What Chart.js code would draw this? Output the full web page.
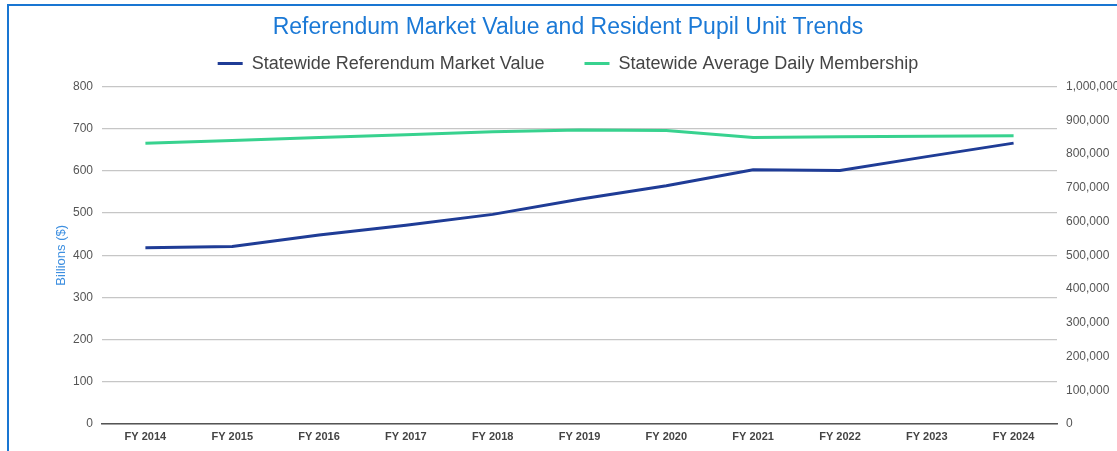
<!DOCTYPE html>
<html>
<head>
<meta charset="utf-8">
<script src="https://cdn.jsdelivr.net/npm/chart.js@4/dist/chart.umd.min.js"></script>
<style>
  html, body { margin: 0; padding: 0; background: #fff; overflow: hidden; }
  .frame {
    position: absolute; left: 7px; top: 4px;
    width: 1120px; height: 447px;
    border-left: 2px solid #1976d2; border-top: 2px solid #1976d2;
  }
  .box { position: relative; width: 1118px; height: 445px; }
</style>
</head>
<body>
<div class="frame"><div class="box"><canvas id="grafico"></canvas></div></div>
<script>
const anos = ["FY 2014", "FY 2015", "FY 2016", "FY 2017", "FY 2018", "FY 2019", "FY 2020", "FY 2021", "FY 2022", "FY 2023", "FY 2024"];
// bilhões de dólares (eixo esquerdo)
const valorMercado = [418, 421, 448, 471, 497, 533, 565, 603, 601, 634, 666];
// membros (eixo direito)
const membrosDiarios = [832000, 840000, 849000, 857000, 866000, 871000, 870000, 849500, 851000, 853000, 854000];

const fonte = "'Liberation Sans', Arial, sans-serif";

const ctx = document.getElementById("grafico").getContext("2d");
const grafico = new Chart(ctx, {
  type: "line",
  data: {
    labels: anos,
    datasets: [
      {
        label: "Statewide Referendum Market Value",
        data: valorMercado,
        borderColor: "#1f3c96",
        backgroundColor: "#1f3c96",
        borderWidth: 3,
        pointRadius: 0,
        tension: 0,
        yAxisID: "y"
      },
      {
        label: "Statewide Average Daily Membership",
        data: membrosDiarios,
        borderColor: "#38d28f",
        backgroundColor: "#38d28f",
        borderWidth: 3,
        pointRadius: 0,
        tension: 0,
        yAxisID: "y2"
      }
    ]
  },
  options: {
    responsive: true,
    maintainAspectRatio: false,
    animation: false,
    layout: { padding: 0 },
    plugins: {
      title: {
        display: true,
        text: "Referendum Market Value and Resident Pupil Unit Trends",
        color: "#1b79d6",
        font: { family: fonte, size: 23, weight: "normal" },
        padding: { top: 8, bottom: 3 }
      },
      // só um espaço entre a legenda e o gráfico
      subtitle: {
        display: true,
        text: "",
        weight: 500,
        font: { size: 4, lineHeight: 1 },
        padding: 0
      },
      legend: {
        labels: {
          color: "#444",
          font: { family: fonte, size: 18 },
          boxWidth: 25,
          boxHeight: 3,
          padding: 10,
          generateLabels: function (chart) {
            return Chart.defaults.plugins.legend.labels.generateLabels(chart).map(function (item, i) {
              item.fillStyle = item.strokeStyle;
              item.lineWidth = 0;
              if (i === 0) item.text += "      "; // espaço entre as legendas
              return item;
            });
          }
        }
      },
      tooltip: { enabled: false }
    },
    scales: {
      x: {
        offset: true,
        grid: { display: false, drawTicks: false },
        border: { display: true, color: "#555", width: 1.5 },
        ticks: { color: "#444", padding: 6, font: { family: fonte, size: 11, weight: "bold" } },
        afterFit: function (scale) { scale.height = 27; }
      },
      y: {
        position: "left",
        min: 0,
        max: 800,
        ticks: { stepSize: 100, color: "#555", padding: 9, font: { family: fonte, size: 12 } },
        grid: { color: "#c6c6c6", lineWidth: 1.3, drawTicks: false },
        border: { display: false },
        title: {
          display: true,
          text: "Billions ($)",
          color: "#3d8fe0",
          font: { family: fonte, size: 13 },
          padding: { top: 45, bottom: 0 }
        },
        afterFit: function (scale) { scale.width = 93; }
      },
      y2: {
        position: "right",
        min: 0,
        max: 1000000,
        ticks: {
          stepSize: 100000,
          color: "#555",
          padding: 9,
          font: { family: fonte, size: 12 },
          callback: function (v) { return v.toLocaleString("en-US"); }
        },
        grid: { display: false, drawTicks: false },
        border: { display: false },
        afterFit: function (scale) { scale.width = 70; }
      }
    }
  }
});
</script>
</body>
</html>
